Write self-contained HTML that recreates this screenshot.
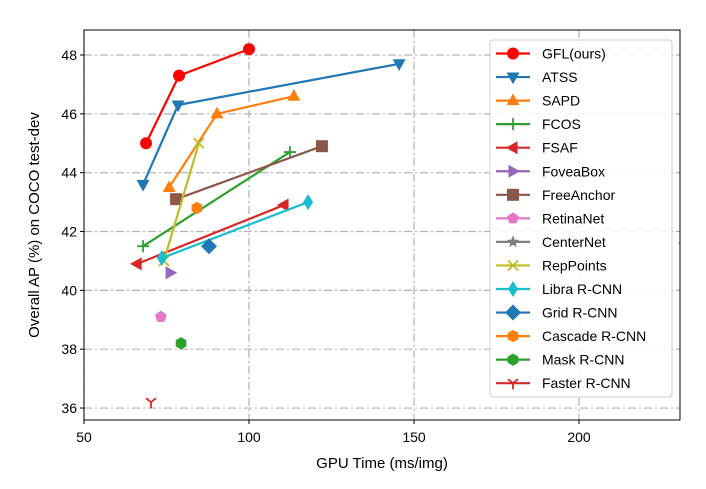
<!DOCTYPE html>
<html><head><meta charset="utf-8"><style>
body{margin:0;background:#fff;}
svg{font-family:"Liberation Sans","DejaVu Sans",sans-serif;}
</style></head><body>
<svg id="chart" width="706" height="484">
<defs><clipPath id="clip"><rect x="84" y="30" width="596" height="390"/></clipPath></defs>
<rect x="84" y="30" width="596" height="390" fill="#fff"/>
<g id="grid"></g>
<g id="series" clip-path="url(#clip)"></g>
<rect x="84" y="30" width="596" height="390" fill="none" stroke="#000" stroke-width="1"/>
<g id="axes"></g>
<text x="382" y="468" text-anchor="middle" font-size="15">GPU Time (ms/img)</text>
<text transform="translate(39,225) rotate(-90)" text-anchor="middle" font-size="15">Overall AP (%) on COCO test-dev</text>
<g id="legend"></g>
</svg>
<script>
const names=["GFL(ours)","ATSS","SAPD","FCOS","FSAF","FoveaBox","FreeAnchor","RetinaNet","CenterNet","RepPoints","Libra R-CNN","Grid R-CNN","Cascade R-CNN","Mask R-CNN","Faster R-CNN"];
const colors=["#ff0000","#1f77b4","#ff7f0e","#2ca02c","#d62728","#9467bd","#8c564b","#e377c2","#7f7f7f","#bcbd22","#17becf","#1f77b4","#ff7f0e","#2ca02c","#d62728"];
const markers=["circle","tri-down","tri-up","plus","tri-left","tri-right","square","pentagon","star","x","thin-diamond","diamond","hexagon","hexagon","tri-y"];
const timeVals=[[68.8,78.8,100],[67.9,78.5,145.5],[75.8,90.3,113.6],[67.9,112.4],[66.1,110.6],[76.1],[77.9,122.1],[73.3],[231.8,250],[74.2,84.8],[73.6,117.9],[87.9],[84.2],[79.4],[70.3]];
const apVals=[[45.0,47.3,48.2],[43.6,46.3,47.7],[43.5,46.0,46.6],[41.5,44.7],[40.9,42.9],[40.6],[43.1,44.9],[39.1],[41.55,42.2],[41.0,45.0],[41.1,43.0],[41.5],[42.8],[38.2],[36.2]];
const xTicks=[50,100,150,200];
const yTicks=[36,38,40,42,44,46,48];
const X=v=>84+(v-50)*3.3;
const Y=v=>55+(48-v)*29.42;
const NS="http://www.w3.org/2000/svg";
function mk(t,a,p){const e=document.createElementNS(NS,t);for(const k in a)e.setAttribute(k,a[k]);p.appendChild(e);return e;}
function marker(type,cx,cy,c,p){let e;const s=6.5;
 if(type==="circle")e=mk("circle",{cx,cy,r:6,fill:c},p);
 else if(type.startsWith("tri-")&&type!=="tri-y"){const d={"tri-down":0,"tri-up":180,"tri-left":90,"tri-right":-90}[type];
  e=mk("polygon",{points:`${-s},${-s*0.7} ${s},${-s*0.7} 0,${s*1.1}`,fill:c,transform:`translate(${cx},${cy}) rotate(${d})`},p);}
 else if(type==="square")e=mk("rect",{x:cx-6,y:cy-6,width:12,height:12,fill:c},p);
 else if(type==="plus")e=mk("path",{d:`M${cx-6},${cy}h12M${cx},${cy-6}v12`,stroke:c,"stroke-width":1.8,fill:"none"},p);
 else if(type==="x")e=mk("path",{d:`M${cx-5},${cy-5}l10,10M${cx-5},${cy+5}l10,-10`,stroke:c,"stroke-width":1.8,fill:"none"},p);
 else if(type==="tri-y")e=mk("path",{d:`M${cx},${cy}v6M${cx},${cy}l-5,-4M${cx},${cy}l5,-4`,stroke:c,"stroke-width":1.8,fill:"none"},p);
 else if(type==="diamond")e=mk("polygon",{points:`${cx},${cy-8} ${cx+8},${cy} ${cx},${cy+8} ${cx-8},${cy}`,fill:c},p);
 else if(type==="thin-diamond")e=mk("polygon",{points:`${cx},${cy-8} ${cx+5},${cy} ${cx},${cy+8} ${cx-5},${cy}`,fill:c},p);
 else if(type==="pentagon"||type==="hexagon"||type==="star"){let n=type==="pentagon"?5:6,pts=[];
  if(type==="star"){for(let i=0;i<10;i++){const r=i%2?2.8:6.5,a=-Math.PI/2+i*Math.PI/5;pts.push((cx+r*Math.cos(a)).toFixed(1)+","+(cy+r*Math.sin(a)).toFixed(1));}}
  else for(let i=0;i<n;i++){const a=-Math.PI/2+i*2*Math.PI/n;pts.push((cx+6.2*Math.cos(a)).toFixed(1)+","+(cy+6.2*Math.sin(a)).toFixed(1));}
  e=mk("polygon",{points:pts.join(" "),fill:c},p);}
 return e;}
const grid=document.getElementById("grid"),axes=document.getElementById("axes");
xTicks.forEach(t=>{const l=mk("line",{x1:X(t),x2:X(t),y1:30,y2:420,stroke:"#b0b0b0","stroke-width":1.2,"stroke-dasharray":"8,3,2,3"},grid);
 
 mk("line",{x1:X(t),x2:X(t),y1:420,y2:424,stroke:"#000"},axes);
 const tx=mk("text",{x:X(t),y:442,"text-anchor":"middle","font-size":14},axes);tx.textContent=t;
 });
yTicks.forEach(t=>{const l=mk("line",{x1:84,x2:680,y1:Y(t),y2:Y(t),stroke:"#b0b0b0","stroke-width":1.2,"stroke-dasharray":"8,3,2,3"},grid);
 
 mk("line",{x1:80,x2:84,y1:Y(t),y2:Y(t),stroke:"#000"},axes);
 const tx=mk("text",{x:77,y:Y(t)+5,"text-anchor":"end","font-size":14},axes);tx.textContent=t;
 });
const sg=document.getElementById("series"),lg=document.getElementById("legend");
names.forEach((n,i)=>{const g=mk("g",{},sg);
 
 
 if(timeVals[i].length>1)mk("polyline",{points:timeVals[i].map((v,j)=>X(v)+","+Y(apVals[i][j])).join(" "),fill:"none",stroke:colors[i],"stroke-width":2.2},g);
 timeVals[i].forEach((v,j)=>{const m=marker(markers[i],X(v),Y(apVals[i][j]),colors[i],g);
  });
});
const box=mk("rect",{x:490,y:40,width:182,height:357,rx:3,fill:"#fff",stroke:"#ccc","fill-opacity":0.85},lg);

names.forEach((n,i)=>{const y=53.5+i*23.55;const g=mk("g",{},lg);
 
 mk("line",{x1:496,x2:530,y1:y,y2:y,stroke:colors[i],"stroke-width":2.2},g);
 marker(markers[i],513,y,colors[i],g);
 const t=mk("text",{x:542,y:y+5,"font-size":14},g);t.textContent=n;});
</script>
</body></html>
